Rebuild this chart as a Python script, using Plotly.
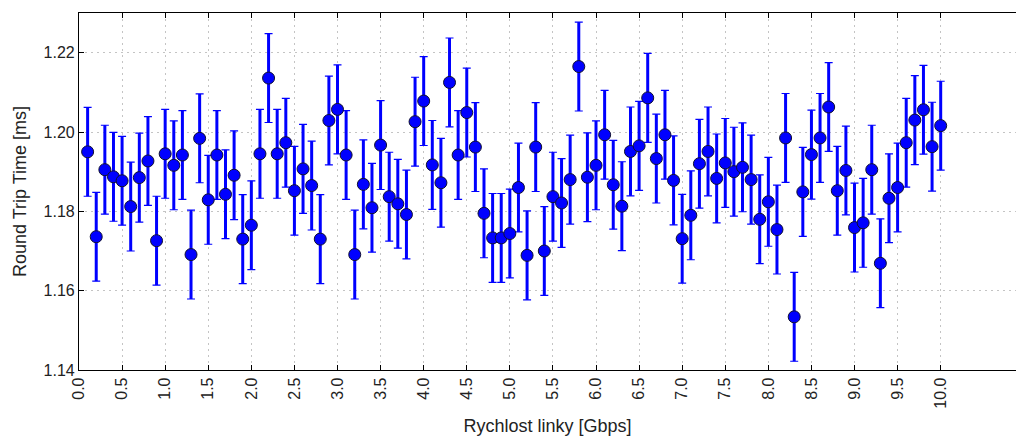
import plotly.graph_objects as go

# Link speed [Gbps]
speed = [0.1, 0.2, 0.3, 0.4, 0.5, 0.6, 0.7, 0.8, 0.9, 1.0,
         1.1, 1.2, 1.3, 1.4, 1.5, 1.6, 1.7, 1.8, 1.9, 2.0,
         2.1, 2.2, 2.3, 2.4, 2.5, 2.6, 2.7, 2.8, 2.9, 3.0,
         3.1, 3.2, 3.3, 3.4, 3.5, 3.6, 3.7, 3.8, 3.9, 4.0,
         4.1, 4.2, 4.3, 4.4, 4.5, 4.6, 4.7, 4.8, 4.9, 5.0,
         5.1, 5.2, 5.3, 5.4, 5.5, 5.6, 5.7, 5.8, 5.9, 6.0,
         6.1, 6.2, 6.3, 6.4, 6.5, 6.6, 6.7, 6.8, 6.9, 7.0,
         7.1, 7.2, 7.3, 7.4, 7.5, 7.6, 7.7, 7.8, 7.9, 8.0,
         8.1, 8.2, 8.3, 8.4, 8.5, 8.6, 8.7, 8.8, 8.9, 9.0,
         9.1, 9.2, 9.3, 9.4, 9.5, 9.6, 9.7, 9.8, 9.9, 10.0]

# Mean round trip time [ms]
rtt = [1.1950, 1.1736, 1.1905, 1.1887, 1.1877, 1.1812, 1.1885, 1.1927, 1.1726, 1.1945,
       1.1916, 1.1942, 1.1691, 1.1984, 1.1829, 1.1942, 1.1843, 1.1891, 1.1730, 1.1765,
       1.1945, 1.2136, 1.1945, 1.1973, 1.1852, 1.1907, 1.1865, 1.1730, 1.2029, 1.2057,
       1.1942, 1.1691, 1.1868, 1.1809, 1.1967, 1.1837, 1.1819, 1.1792, 1.2026, 1.2078,
       1.1917, 1.1872, 1.2125, 1.1942, 1.2049, 1.1962, 1.1795, 1.1733, 1.1733, 1.1744,
       1.1860, 1.1689, 1.1962, 1.1700, 1.1837, 1.1821, 1.1880, 1.2165, 1.1886, 1.1916,
       1.1993, 1.1867, 1.1813, 1.1951, 1.1965, 1.2086, 1.1933, 1.1993, 1.1878, 1.1731,
       1.1790, 1.1920, 1.1951, 1.1883, 1.1922, 1.1900, 1.1911, 1.1880, 1.1780, 1.1824,
       1.1754, 1.1985, 1.1534, 1.1849, 1.1943, 1.1985, 1.2063, 1.1852, 1.1903, 1.1759,
       1.1771, 1.1905, 1.1669, 1.1833, 1.1860, 1.1973, 1.2030, 1.2056, 1.1963, 1.2016]

# Error of each mean [ms] (same for every point)
rtt_err = 0.0112

x_ticks = [0.0, 0.5, 1.0, 1.5, 2.0, 2.5, 3.0, 3.5, 4.0, 4.5, 5.0,
           5.5, 6.0, 6.5, 7.0, 7.5, 8.0, 8.5, 9.0, 9.5, 10.0]
y_ticks = [1.14, 1.16, 1.18, 1.20, 1.22]

BLUE = "#0000ff"
FONT = "Liberation Sans, Arial, sans-serif"

fig = go.Figure()

# thin caps of the error bars
fig.add_trace(go.Scatter(
    x=speed, y=rtt, mode="markers",
    marker=dict(color="rgba(0,0,0,0)", size=1),
    error_y=dict(type="constant", value=rtt_err, color=BLUE,
                 thickness=1.2, width=4),
    hoverinfo="skip", showlegend=False,
))

# thick error bar stems and the mean markers
fig.add_trace(go.Scatter(
    x=speed, y=rtt, mode="markers",
    marker=dict(color=BLUE, size=12, line=dict(color="#101030", width=1)),
    error_y=dict(type="constant", value=rtt_err, color=BLUE,
                 thickness=3, width=0),
    showlegend=False,
))

axis_common = dict(
    showline=True, linecolor="black", linewidth=1.2,
    ticks="inside", ticklen=5, tickcolor="black", tickwidth=1,
    showgrid=True, gridcolor="#c4c4c4", gridwidth=1, griddash="2px,4px",
    zeroline=False,
    tickfont=dict(family=FONT, size=16, color="#222"),
    title_font=dict(family=FONT, size=18, color="#222"),
)

fig.update_xaxes(
    range=[0, 10.874], tickvals=x_ticks, tickformat=".1f",
    tickangle=-90, mirror="ticks",
    title=dict(text="Rychlost linky [Gbps]", standoff=11),
    **axis_common,
)
fig.update_yaxes(
    range=[1.14, 1.23], tickvals=y_ticks, tickformat=".2f",
    mirror=False,
    title=dict(text="Round Trip Time [ms]", standoff=12),
    **axis_common,
)

fig.update_layout(
    width=1016, height=436,
    margin=dict(l=79, r=0, t=13, b=66, pad=0),
    plot_bgcolor="white", paper_bgcolor="white",
    font=dict(family=FONT, size=16, color="#222"),
)

fig.write_html("out.html")
